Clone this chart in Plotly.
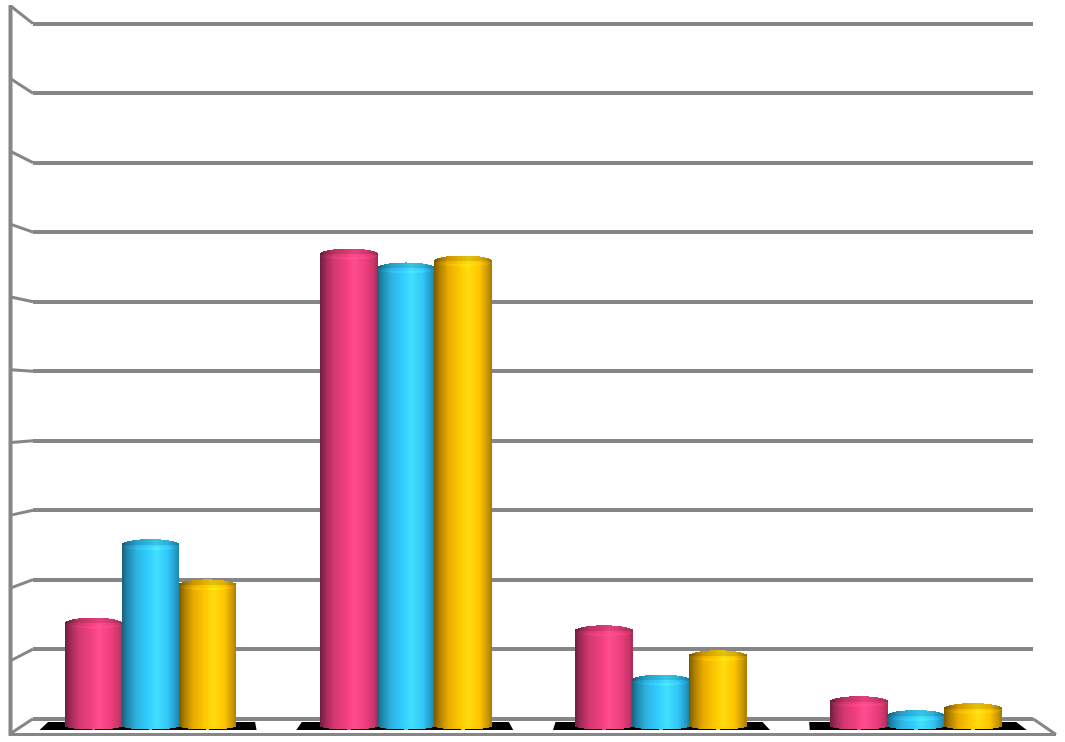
import numpy as np
import plotly.graph_objects as go

GROUPS = [0, 1, 2, 3]
PINK_VALUES = [14.8, 67.9, 13.7, 3.5]
CYAN_VALUES = [26.1, 65.9, 6.6, 1.5]
GOLD_VALUES = [20.3, 66.9, 10.1, 2.5]
GRID_TICKS = [0, 10, 20, 30, 40, 50, 60, 70, 80, 90, 100]

# shading across one cylinder, left edge to right edge
SHADE_STOPS = [0, 0.1, 0.25, 0.45, 0.6, 0.8, 0.95, 1]
PINK_SHADES = ['#6e1f42', '#a32a57', '#d43a70', '#f03f7e', '#ff4d8f', '#ee3f7d', '#c83668', '#a82d58']
CYAN_SHADES = ['#1a5f7a', '#1f8bb0', '#2eb3e0', '#33ccff', '#44e0ff', '#33c8f8', '#2299c8', '#1e86aa']
GOLD_SHADES = ['#7a5a00', '#b08000', '#e8ab00', '#ffc800', '#ffdd10', '#ffc400', '#c89400', '#a87f00']

GRID_COLOR = '#868686'
WIDTH, HEIGHT = 1065, 742
PLOT_LEFT, PLOT_RIGHT = 33, 1033
PLOT_TOP, PLOT_BOTTOM = 20, 738
PX_PER_GROUP = 255.1
PX_PER_UNIT = 6.95
Y0_PX = 718.7  # where value 0 of the grid sits
FLOOR_PX = 734.5

BAR_PX = 57
STRIPS = 57
BASE = -1.05  # cylinders stand a little in front of the back wall
CAP = 5.5 / PX_PER_UNIT
FOOT = 3.5 / PX_PER_UNIT


def hex_to_rgb(color):
    return np.array([int(color[i:i + 2], 16) for i in (1, 3, 5)], dtype=float)


def strip_colors(shades, gain=1.0):
    """One css colour per strip, interpolated over the shade stops."""
    rgb = np.array([hex_to_rgb(s) for s in shades])
    pos = (np.arange(STRIPS) + 0.5) / STRIPS
    out = []
    for p in pos:
        c = [np.interp(p, SHADE_STOPS, rgb[:, k]) * gain for k in range(3)]
        out.append('rgb(%d,%d,%d)' % tuple(min(255, int(v)) for v in c))
    return out


def paper_x(px):
    return (px - PLOT_LEFT) / (PLOT_RIGHT - PLOT_LEFT)


def paper_y(py):
    return (PLOT_BOTTOM - py) / (PLOT_BOTTOM - PLOT_TOP)


def frame_line(x0, y0, x1, y1, width=3):
    return dict(
        type='line', xref='paper', yref='paper', layer='above',
        x0=paper_x(x0), y0=paper_y(y0), x1=paper_x(x1), y1=paper_y(y1),
        line=dict(color=GRID_COLOR, width=width)
    )


def add_cylinders(fig, values, shades, slot, name):
    """Draw one series as narrow strips, so the shading and round tops show."""
    unit = BAR_PX / PX_PER_GROUP
    t = (np.arange(STRIPS) + 0.5) / STRIPS * 2 - 1
    curve = np.sqrt(1 - t ** 2)
    xs, tops, bases, = [], [], []
    for group, value in zip(GROUPS, values):
        xs.append(group + (slot + (t + 1) / 2 - 0.5) * unit)
        tops.append(np.full(STRIPS, BASE + value))
        bases.append(np.full(STRIPS, BASE))
    xs = np.concatenate(xs)
    tops = np.concatenate(tops)
    bases = np.concatenate(bases)
    curves = np.tile(curve, len(values))
    strip_width = unit / STRIPS

    # body, from the curved foot up to the front edge of the top
    fig.add_trace(go.Bar(
        x=xs, y=tops - CAP * curves - (bases - FOOT * curves),
        base=bases - FOOT * curves, width=strip_width, name=name,
        marker=dict(color=strip_colors(shades) * len(values), line=dict(width=0))
    ))
    # top of the cylinder: bright near the front, darker towards the back
    layers = [(0.0, 0.25, 1.06), (0.25, 0.5, 1.0), (0.5, 1.0, 0.88)]
    for low, high, gain in layers:
        y0 = tops - CAP * curves + 2 * CAP * curves * low
        y1 = tops - CAP * curves + 2 * CAP * curves * high
        fig.add_trace(go.Bar(
            x=xs, y=y1 - y0, base=y0, width=strip_width, name=name,
            marker=dict(color=strip_colors(shades, gain) * len(values), line=dict(width=0))
        ))


fig = go.Figure()
add_cylinders(fig, PINK_VALUES, PINK_SHADES, -1, 'Series 1')
add_cylinders(fig, CYAN_VALUES, CYAN_SHADES, 0, 'Series 2')
add_cylinders(fig, GOLD_VALUES, GOLD_SHADES, 1, 'Series 3')

# black floor shadow under each group, leaning with the perspective
shapes = []
for group in GROUPS:
    centre_px = 150.5 + group * PX_PER_GROUP
    front = centre_px + (centre_px - 533) * 0.0064
    back = centre_px - (centre_px - 533) * 0.0055 - 1
    corners = [
        (front - 108.5, 730), (front + 108.5, 730),
        (back + 103.5, 722), (back - 103.5, 722),
    ]
    path = 'M ' + ' L '.join(f'{paper_x(a):.5f},{paper_y(b):.5f}' for a, b in corners) + ' Z'
    shapes.append(dict(type='path', xref='paper', yref='paper', layer='below',
                       path=path, fillcolor='black', line=dict(width=0)))

# left wall and floor
shapes.append(frame_line(10.5, 5, 10.5, 736, width=4))
shapes.append(frame_line(10.5, FLOOR_PX, 1056, FLOOR_PX))
shapes.append(frame_line(PLOT_RIGHT, Y0_PX, 1056, FLOOR_PX))
for tick in GRID_TICKS:
    py = Y0_PX - tick * PX_PER_UNIT
    shapes.append(frame_line(11, 6 + (py - 23.5) * 727 / 695, PLOT_LEFT, py))

half = PX_PER_GROUP
fig.update_layout(
    width=WIDTH, height=HEIGHT,
    barmode='overlay', bargap=0,
    showlegend=False,
    plot_bgcolor='white', paper_bgcolor='white',
    margin=dict(l=PLOT_LEFT, r=WIDTH - PLOT_RIGHT, t=PLOT_TOP, b=HEIGHT - PLOT_BOTTOM),
    xaxis=dict(
        range=[(PLOT_LEFT - 150.5) / half, (PLOT_RIGHT - 150.5) / half],
        showgrid=False, zeroline=False, showticklabels=False, ticks=''
    ),
    yaxis=dict(
        range=[(Y0_PX - PLOT_BOTTOM) / PX_PER_UNIT, (Y0_PX - PLOT_TOP) / PX_PER_UNIT],
        tickvals=GRID_TICKS, showticklabels=False, ticks='',
        showgrid=True, gridcolor=GRID_COLOR, gridwidth=3.5, zeroline=False
    ),
    shapes=shapes
)

fig.write_html(
    "out.html",
    config=dict(displayModeBar=False),
    post_script="document.body.style.margin='0';document.body.style.overflow='hidden';"
)
